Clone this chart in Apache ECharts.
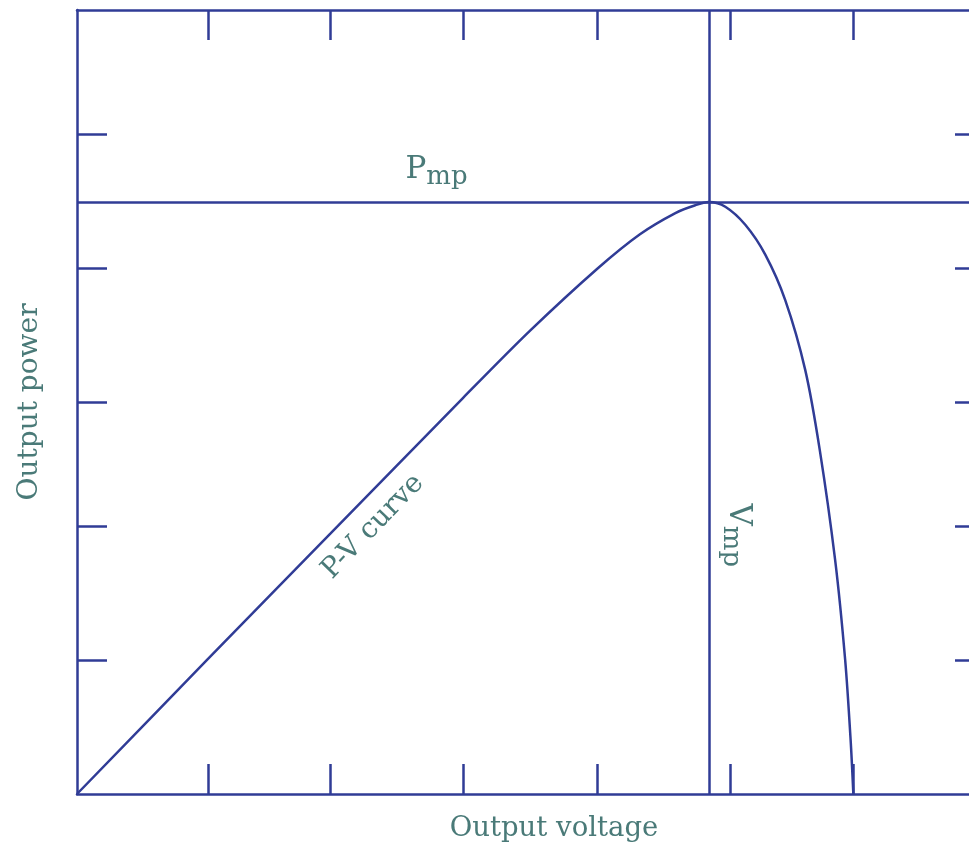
<!DOCTYPE html>
<html>
<head>
<meta charset="utf-8">
<style>
  html, body { margin: 0; padding: 0; background: #fff; }
  #chart { width: 969px; height: 847px; }
</style>
<script src="https://cdn.jsdelivr.net/npm/echarts@6/dist/echarts.min.js"></script>
</head>
<body>
<div id="chart"></div>
<script>
// P-V curve, voltage and power in relative units (0-100)
const voltage = [0, 14.4, 27.9, 42.5, 49.9, 57.3, 62.0, 65.9, 68.1, 69.6, 71.4, 73.6, 75.8, 78.0, 80.2, 81.8, 83.5, 84.6, 85.2, 85.5]
const power = [0, 17.2, 33.2, 50.5, 59.1, 67.0, 71.4, 74.1, 75.1, 75.5, 74.9, 72.6, 68.8, 63.0, 54.1, 43.9, 29.8, 17.1, 6.9, 0]

const vmp = 69.6
const pmp = 75.5

const xTicks = [14.4, 27.9, 42.5, 57.3, 71.9, 85.5]
const yTicks = [17.0, 34.2, 50.0, 67.1, 84.2]

const lineColor = '#303c96'
const textColor = '#4a7a78'
const font = '"DejaVu Serif", serif'

const chart = echarts.init(document.getElementById('chart'))

const axisCommon = {
  type: 'value',
  min: 0,
  max: 100,
  axisLine: { show: true, onZero: false, lineStyle: { color: lineColor, width: 2.5 } },
  axisTick: { show: true, inside: true, length: 30, lineStyle: { color: lineColor, width: 2.5 } },
  axisLabel: { show: false },
  splitLine: { show: false }
}

const option = {
  animation: false,
  backgroundColor: '#fff',
  grid: { left: 77, top: 10, bottom: 53, right: -16, outerBoundsMode: 'none', containLabel: false },
  xAxis: [
    {
      ...axisCommon,
      position: 'bottom',
      axisTick: { ...axisCommon.axisTick, customValues: xTicks },
      name: 'Output voltage',
      nameLocation: 'middle',
      nameGap: 21,
      nameTextStyle: { color: textColor, fontFamily: font, fontSize: 27.5, padding: [0, 0, 0, 46] }
    },
    {
      ...axisCommon,
      position: 'top',
      axisTick: { ...axisCommon.axisTick, customValues: xTicks }
    }
  ],
  yAxis: [
    {
      ...axisCommon,
      position: 'left',
      axisTick: { ...axisCommon.axisTick, customValues: yTicks },
      name: 'Output power',
      nameLocation: 'middle',
      nameGap: 33,
      nameTextStyle: { color: textColor, fontFamily: font, fontSize: 28 }
    },
    {
      ...axisCommon,
      position: 'right',
      axisTick: { ...axisCommon.axisTick, customValues: yTicks }
    }
  ],
  series: [
    {
      type: 'line',
      data: voltage.map((v, i) => [v, power[i]]),
      smooth: 0.3,
      symbol: 'none',
      lineStyle: { color: lineColor, width: 2.5 },
      markLine: {
        silent: true,
        symbol: 'none',
        label: { show: false },
        lineStyle: { color: lineColor, width: 2.5, type: 'solid' },
        data: [{ xAxis: vmp }, { yAxis: pmp }]
      },
      markPoint: {
        symbol: 'circle',
        symbolSize: 0,
        label: {
          show: true,
          color: textColor,
          fontFamily: font,
          rich: {
            big: { fontSize: 31, fontFamily: font, color: textColor },
            sub: { fontSize: 26, fontFamily: font, color: textColor, padding: [15, 0, 0, 0] }
          }
        },
        data: [
          { coord: [39.6, 79.6], label: { formatter: '{big|P}{sub|mp}' } },
          { coord: [72.8, 33.0], label: { formatter: '{big|V}{sub|mp}', rotate: -90 } },
          { coord: [32.6, 34.1], label: { formatter: 'P-V curve', fontSize: 28, rotate: 46 } }
        ]
      }
    }
  ]
}

chart.setOption(option)
</script>
</body>
</html>
